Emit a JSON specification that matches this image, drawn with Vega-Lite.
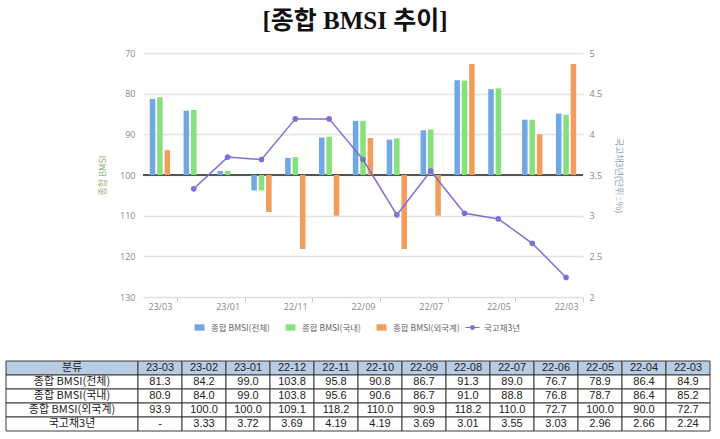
{
  "$schema": "https://vega.github.io/schema/vega-lite/v6.json",
  "background": "white",
  "padding": {"left": 5, "right": 1, "top": 9, "bottom": 0},
  "datasets": {
    "bmsi": [
      {"month": "23-03", "series": "종합 BMSI(전체)", "value": 81.3},
      {"month": "23-02", "series": "종합 BMSI(전체)", "value": 84.2},
      {"month": "23-01", "series": "종합 BMSI(전체)", "value": 99.0},
      {"month": "22-12", "series": "종합 BMSI(전체)", "value": 103.8},
      {"month": "22-11", "series": "종합 BMSI(전체)", "value": 95.8},
      {"month": "22-10", "series": "종합 BMSI(전체)", "value": 90.8},
      {"month": "22-09", "series": "종합 BMSI(전체)", "value": 86.7},
      {"month": "22-08", "series": "종합 BMSI(전체)", "value": 91.3},
      {"month": "22-07", "series": "종합 BMSI(전체)", "value": 89.0},
      {"month": "22-06", "series": "종합 BMSI(전체)", "value": 76.7},
      {"month": "22-05", "series": "종합 BMSI(전체)", "value": 78.9},
      {"month": "22-04", "series": "종합 BMSI(전체)", "value": 86.4},
      {"month": "22-03", "series": "종합 BMSI(전체)", "value": 84.9},
      {"month": "23-03", "series": "종합 BMSI(국내)", "value": 80.9},
      {"month": "23-02", "series": "종합 BMSI(국내)", "value": 84.0},
      {"month": "23-01", "series": "종합 BMSI(국내)", "value": 99.0},
      {"month": "22-12", "series": "종합 BMSI(국내)", "value": 103.8},
      {"month": "22-11", "series": "종합 BMSI(국내)", "value": 95.6},
      {"month": "22-10", "series": "종합 BMSI(국내)", "value": 90.6},
      {"month": "22-09", "series": "종합 BMSI(국내)", "value": 86.7},
      {"month": "22-08", "series": "종합 BMSI(국내)", "value": 91.0},
      {"month": "22-07", "series": "종합 BMSI(국내)", "value": 88.8},
      {"month": "22-06", "series": "종합 BMSI(국내)", "value": 76.8},
      {"month": "22-05", "series": "종합 BMSI(국내)", "value": 78.7},
      {"month": "22-04", "series": "종합 BMSI(국내)", "value": 86.4},
      {"month": "22-03", "series": "종합 BMSI(국내)", "value": 85.2},
      {"month": "23-03", "series": "종합 BMSI(외국계)", "value": 93.9},
      {"month": "23-02", "series": "종합 BMSI(외국계)", "value": 100.0},
      {"month": "23-01", "series": "종합 BMSI(외국계)", "value": 100.0},
      {"month": "22-12", "series": "종합 BMSI(외국계)", "value": 109.1},
      {"month": "22-11", "series": "종합 BMSI(외국계)", "value": 118.2},
      {"month": "22-10", "series": "종합 BMSI(외국계)", "value": 110.0},
      {"month": "22-09", "series": "종합 BMSI(외국계)", "value": 90.9},
      {"month": "22-08", "series": "종합 BMSI(외국계)", "value": 118.2},
      {"month": "22-07", "series": "종합 BMSI(외국계)", "value": 110.0},
      {"month": "22-06", "series": "종합 BMSI(외국계)", "value": 72.7},
      {"month": "22-05", "series": "종합 BMSI(외국계)", "value": 100.0},
      {"month": "22-04", "series": "종합 BMSI(외국계)", "value": 90.0},
      {"month": "22-03", "series": "종합 BMSI(외국계)", "value": 72.7},
      {"month": "23-03", "series": "국고채3년", "value": null},
      {"month": "23-02", "series": "국고채3년", "value": 3.33},
      {"month": "23-01", "series": "국고채3년", "value": 3.72},
      {"month": "22-12", "series": "국고채3년", "value": 3.69},
      {"month": "22-11", "series": "국고채3년", "value": 4.19},
      {"month": "22-10", "series": "국고채3년", "value": 4.19},
      {"month": "22-09", "series": "국고채3년", "value": 3.69},
      {"month": "22-08", "series": "국고채3년", "value": 3.01},
      {"month": "22-07", "series": "국고채3년", "value": 3.55},
      {"month": "22-06", "series": "국고채3년", "value": 3.03},
      {"month": "22-05", "series": "국고채3년", "value": 2.96},
      {"month": "22-04", "series": "국고채3년", "value": 2.66},
      {"month": "22-03", "series": "국고채3년", "value": 2.24}
    ],
    "rows": [
      {"row": "분류"},
      {"row": "종합 BMSI(전체)"},
      {"row": "종합 BMSI(국내)"},
      {"row": "종합 BMSI(외국계)"},
      {"row": "국고채3년"}
    ]
  },
  "vconcat": [
    {
      "title": {
        "text": "[종합 BMSI  추이]",
        "font": "Liberation Serif, Noto Sans CJK KR",
        "fontSize": 25,
        "fontWeight": "bold",
        "color": "#111111",
        "offset": 15,
        "dx": -8
      },
      "width": 440,
      "height": 244,
      "data": {"name": "bmsi"},
      "layer": [
        {
          "layer": [
            {
              "mark": {"type": "rule", "color": "#555555", "strokeWidth": 1.5},
              "encoding": {
                "y": {"datum": 100, "type": "quantitative", "title": "종합 BMSI"}
              }
            },
            {
              "transform": [{"filter": "datum.series !== '국고채3년'"}],
              "mark": {"type": "bar"},
              "encoding": {
                "x": {
                  "field": "month", "type": "nominal", "sort": null, "title": null,
                  "scale": {"domain": ["23-03","23-02","23-01","22-12","22-11","22-10","22-09","22-08","22-07","22-06","22-05","22-04","22-03"], "paddingInner": 0.4, "paddingOuter": 0.2},
                  "axis": {
                    "values": ["23-03","23-01","22-11","22-09","22-07","22-05","22-03"],
                    "labelExpr": "replace(datum.value, '-', '/')",
                    "labelAngle": 0, "tickOffset": 17, "labelOffset": -17,
                    "tickColor": "#cccccc", "tickSize": 5, "domainColor": "#dddddd",
                    "labelColor": "#888888", "labelFontSize": 9, "labelFont": "Open Sans",
                    "grid": false, "labelPadding": 0
                  }
                },
                "xOffset": {
                  "field": "series", "type": "nominal",
                  "scale": {"domain": ["종합 BMSI(전체)","종합 BMSI(국내)","종합 BMSI(외국계)"], "paddingInner": 0.25}
                },
                "y": {
                  "field": "value", "type": "quantitative", "title": "종합 BMSI",
                  "scale": {"domain": [70, 130], "reverse": true, "nice": false, "zero": false},
                  "axis": {
                    "values": [70, 80, 90, 100, 110, 120, 130], "format": "d",
                    "grid": true, "gridColor": "#e3e3e3", "gridWidth": 1.5,
                    "ticks": false, "domain": false,
                    "labelColor": "#888888", "labelFontSize": 9, "labelFont": "Open Sans", "labelPadding": 8,
                    "titleColor": "#9ab07a", "titleFontSize": 9, "titleFontWeight": "normal",
                    "titleFont": "Noto Sans CJK KR", "titlePadding": 12
                  }
                },
                "y2": {"datum": 100},
                "color": {
                  "field": "series", "type": "nominal", "title": null,
                  "scale": {"domain": ["종합 BMSI(전체)","종합 BMSI(국내)","종합 BMSI(외국계)","국고채3년"], "range": ["#6fa8e2","#86e07b","#f29d5c","#7b72d8"]}
                }
              }
            },
            {
              "mark": {"type": "point", "filled": true, "opacity": 0},
              "encoding": {
                "color": {
                  "field": "series", "type": "nominal", "title": null,
                  "scale": {"domain": ["종합 BMSI(전체)","종합 BMSI(국내)","종합 BMSI(외국계)","국고채3년"], "range": ["#6fa8e2","#86e07b","#f29d5c","#7b72d8"]}
                },
                "shape": {
                  "field": "series", "type": "nominal", "title": null,
                  "scale": {"domain": ["종합 BMSI(전체)","종합 BMSI(국내)","종합 BMSI(외국계)","국고채3년"], "range": ["M-0.7,-0.45H0.7V0.45H-0.7Z","M-0.7,-0.45H0.7V0.45H-0.7Z","M-0.7,-0.45H0.7V0.45H-0.7Z","M-1,-0.08H1V0.08H-1Z M0.35,0A0.35,0.35 0 1,1 -0.35,0A0.35,0.35 0 1,1 0.35,0Z"]}
                }
              }
            }
          ]
        },
        {
          "transform": [{"filter": "datum.series === '국고채3년' && datum.value != null"}],
          "encoding": {
            "x": {
              "field": "month", "type": "nominal", "sort": null, "title": null,
              "scale": {"domain": ["23-03","23-02","23-01","22-12","22-11","22-10","22-09","22-08","22-07","22-06","22-05","22-04","22-03"], "paddingInner": 0.4, "paddingOuter": 0.2},
              "axis": {
                "values": ["23-03","23-01","22-11","22-09","22-07","22-05","22-03"],
                "labelExpr": "replace(datum.value, '-', '/')",
                "labelAngle": 0, "tickOffset": 17, "labelOffset": -17,
                "tickColor": "#cccccc", "tickSize": 5, "domainColor": "#dddddd",
                "labelColor": "#888888", "labelFontSize": 9, "labelFont": "Open Sans",
                "grid": false, "labelPadding": 0
              }
            },
            "y": {
              "field": "value", "type": "quantitative", "title": "국고채3년(단위 : %)",
              "scale": {"domain": [2, 5], "nice": false, "zero": false},
              "axis": {
                "orient": "right", "values": [2, 2.5, 3, 3.5, 4, 4.5, 5], "format": "~g",
                "grid": false, "ticks": false, "domain": false,
                "labelColor": "#888888", "labelFontSize": 9, "labelFont": "Open Sans", "labelPadding": 6,
                "titleColor": "#8aa0b8", "titleFontSize": 9, "titleFontWeight": "normal",
                "titleFont": "Noto Sans CJK KR", "titlePadding": 12
              }
            }
          },
          "layer": [
            {"mark": {"type": "line", "color": "#7b72d8", "strokeWidth": 1.5}},
            {"mark": {"type": "point", "filled": true, "color": "#7b72d8", "size": 32, "opacity": 1}}
          ]
        }
      ],
      "resolve": {"scale": {"y": "independent"}}
    },
    {
      "width": 714,
      "height": 70,
      "layer": [
        {
          "data": {"name": "rows"},
          "mark": {"type": "rect", "stroke": "#3a3a3a", "strokeWidth": 1, "width": {"band": 3}},
          "encoding": {
            "x": {"datum": "c2", "type": "nominal", "axis": null,
              "scale": {"domain": ["c1","c2","c3","23-03","23-02","23-01","22-12","22-11","22-10","22-09","22-08","22-07","22-06","22-05","22-04","22-03"], "paddingInner": 0, "paddingOuter": 0.1136, "align": 0}},
            "y": {"field": "row", "type": "nominal", "axis": null,
              "scale": {"domain": ["분류","종합 BMSI(전체)","종합 BMSI(국내)","종합 BMSI(외국계)","국고채3년"], "paddingInner": 0, "paddingOuter": 0}},
            "fill": {"condition": {"test": "datum.row === '분류'", "value": "#b8cce4"}, "value": "#ffffff"}
          }
        },
        {
          "data": {"name": "rows"},
          "mark": {"type": "text", "font": "Noto Sans CJK KR", "fontSize": 11, "color": "#222222", "baseline": "middle"},
          "encoding": {
            "x": {"datum": "c2", "type": "nominal", "axis": null},
            "y": {"field": "row", "type": "nominal", "axis": null},
            "text": {"field": "row"}
          }
        },
        {
          "data": {"name": "bmsi"},
          "transform": [{"filter": "datum.series === '종합 BMSI(전체)'"}],
          "mark": {"type": "rect", "stroke": "#3a3a3a", "strokeWidth": 1, "fill": "#b8cce4"},
          "encoding": {
            "x": {"field": "month", "type": "nominal", "axis": null},
            "y": {"datum": "분류", "type": "nominal", "axis": null}
          }
        },
        {
          "data": {"name": "bmsi"},
          "transform": [{"filter": "datum.series === '종합 BMSI(전체)'"}],
          "mark": {"type": "text", "font": "Liberation Sans", "fontSize": 11, "color": "#222222", "baseline": "middle"},
          "encoding": {
            "x": {"field": "month", "type": "nominal", "axis": null},
            "y": {"datum": "분류", "type": "nominal", "axis": null},
            "text": {"field": "month"}
          }
        },
        {
          "data": {"name": "bmsi"},
          "mark": {"type": "rect", "stroke": "#3a3a3a", "strokeWidth": 1, "fill": "#ffffff"},
          "encoding": {
            "x": {"field": "month", "type": "nominal", "axis": null},
            "y": {"field": "series", "type": "nominal", "axis": null}
          }
        },
        {
          "data": {"name": "bmsi"},
          "transform": [
            {"calculate": "datum.value == null ? '-' : (datum.series === '국고채3년' ? format(datum.value, '.2f') : format(datum.value, '.1f'))", "as": "label"}
          ],
          "mark": {"type": "text", "font": "Liberation Sans", "fontSize": 11, "color": "#222222", "baseline": "middle"},
          "encoding": {
            "x": {"field": "month", "type": "nominal", "axis": null},
            "y": {"field": "series", "type": "nominal", "axis": null},
            "text": {"field": "label"}
          }
        }
      ]
    }
  ],
  "spacing": 64,
  "center": true,
  "bounds": "flush",
  "config": {
    "view": {"stroke": null},
    "legend": {
      "orient": "none", "legendX": 186, "legendY": 267,
      "direction": "horizontal", "gridAlign": "all",
      "columnPadding": 5, "labelFont": "Noto Sans CJK KR", "labelFontSize": 8.5,
      "labelColor": "#666666", "symbolSize": 200, "symbolOpacity": 1,
      "symbolStrokeWidth": 0, "labelLimit": 120, "title": null
    }
  }
}
